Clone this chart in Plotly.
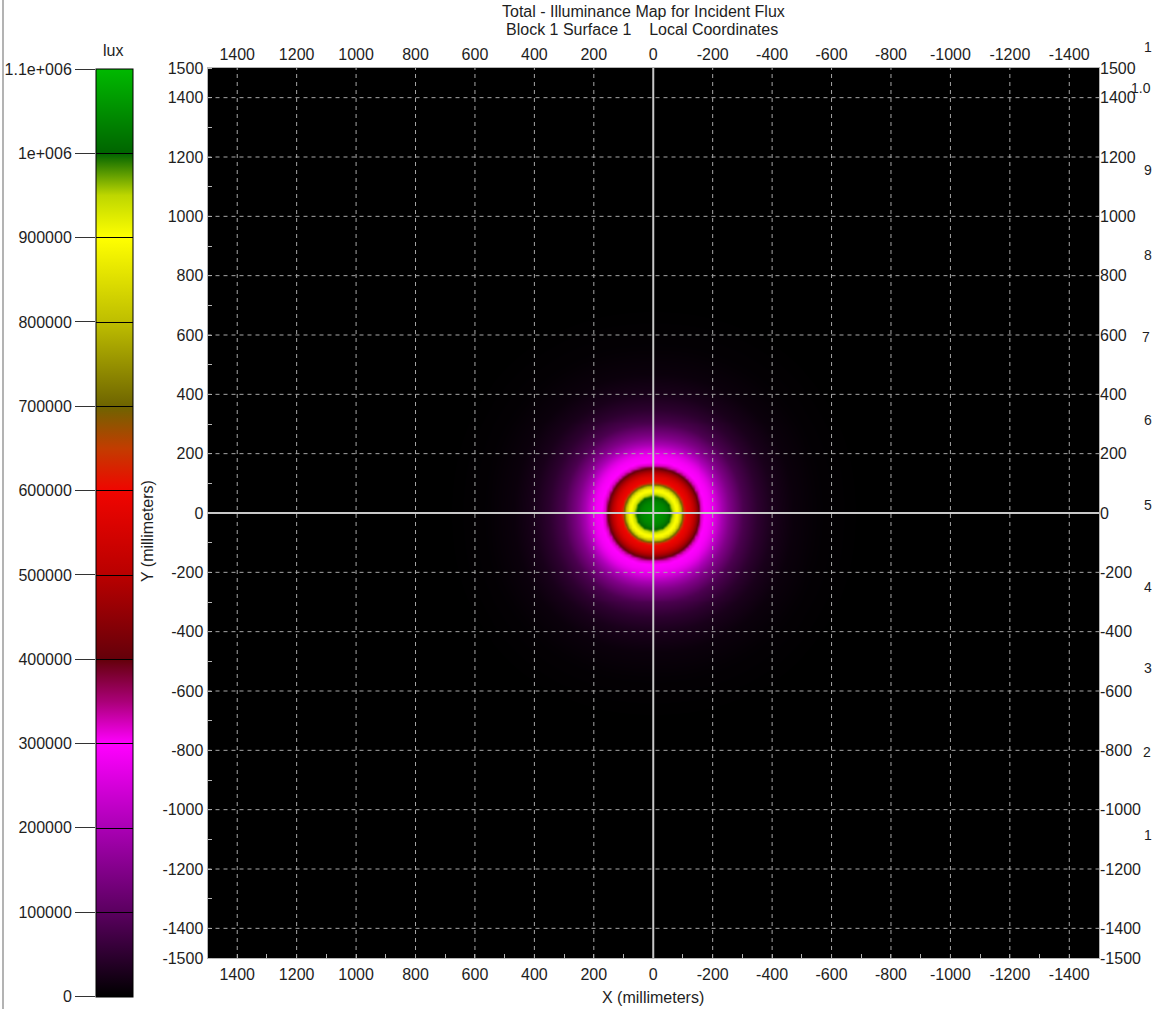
import numpy as np
import plotly.graph_objects as go

W, H = 1152, 1009

# ---------------- data ----------------
# radial illuminance profile of the spot (distance from centre in mm -> lux)
radius_mm = [0, 40, 58, 63, 72, 85, 92, 98, 104, 125, 140, 150, 158, 172,
             190, 205, 230, 255, 300, 350, 400, 470, 560, 700]
lux_profile = [1065000, 1040000, 1000000, 950000, 910000, 880000, 800000,
               680000, 610000, 560000, 480000, 420000, 330000, 300000,
               290000, 265000, 200000, 150000, 85000, 50000, 28000, 12000,
               4000, 0]

x_ticks = [1400, 1200, 1000, 800, 600, 400, 200, 0, -200, -400, -600, -800,
           -1000, -1200, -1400]
y_ticks = [1500, 1400, 1200, 1000, 800, 600, 400, 200, 0, -200, -400, -600,
           -800, -1000, -1200, -1400, -1500]
grid_vals = [1400, 1200, 1000, 800, 600, 400, 200, -200, -400, -600, -800,
             -1000, -1200, -1400]

cb_ticks = [0, 100000, 200000, 300000, 400000, 500000, 600000, 700000,
            800000, 900000, 1000000, 1100000]
cb_labels = ["0", "100000", "200000", "300000", "400000", "500000", "600000",
             "700000", "800000", "900000", "1e+006", "1.1e+006"]

# colour scale (lux -> colour)
lux_stops = [0, 100000, 200000, 300000, 350000, 400000, 500000, 600000,
             650000, 700000, 800000, 900000, 950000, 1000000, 1100000]
stop_colors = ["rgb(0,0,0)", "rgb(90,0,95)", "rgb(170,0,180)",
               "rgb(255,0,255)", "rgb(170,0,120)", "rgb(100,0,10)",
               "rgb(185,0,0)", "rgb(240,5,0)", "rgb(195,60,0)",
               "rgb(110,100,0)", "rgb(190,190,0)", "rgb(255,255,0)",
               "rgb(190,215,0)", "rgb(0,100,0)", "rgb(0,185,0)"]

# labels at the right window edge
edge_texts = ["1", "1.0", "9", "8", "7", "6", "5", "4", "3", "2", "1"]
edge_y_px = [47, 88, 170, 255, 337, 420, 505, 587, 668, 752, 835]
edge_x_px = [1142, 1129, 1142, 1142, 1140, 1142, 1142, 1142, 1142, 1141, 1142]

# ---------------- build figure ----------------
ZMAX = 1100000
colorscale = [[v / ZMAX, c] for v, c in zip(lux_stops, stop_colors)]

grid_mm = np.arange(-900, 901, 10)
gx, gy = np.meshgrid(grid_mm, grid_mm)
rr = (np.abs(gx) ** 2.15 + np.abs(gy) ** 2.15) ** (1 / 2.15)
z = np.interp(rr, radius_mm, lux_profile).round().astype(int)

FONT = "Liberation Sans, Arial, sans-serif"
TXT = "#1e1e1e"
FS = 16

plot_l, plot_r, plot_t, plot_b = 207.5, 1099, 68, 958
cb_l, cb_r, cb_t, cb_b = 96, 133, 69, 996.5

fig = go.Figure()
fig.add_trace(go.Heatmap(
    x=grid_mm, y=grid_mm, z=z, zmin=0, zmax=ZMAX, zsmooth="best",
    colorscale=colorscale, hoverinfo="skip",
    colorbar=dict(
        x=cb_l / W, xanchor="left", y=1 - cb_t / H, yanchor="top",
        len=cb_b - cb_t, lenmode="pixels", thickness=cb_r - cb_l,
        thicknessmode="pixels", xpad=0, ypad=0, outlinewidth=1,
        outlinecolor="#000", ticks="inside", ticklen=cb_r - cb_l,
        tickwidth=1, tickcolor="#000", tickmode="array", tickvals=cb_ticks,
        showticklabels=False),
))
fig.add_trace(go.Scatter(x=[None], y=[None], xaxis="x2", yaxis="y2",
                         showlegend=False, hoverinfo="skip"))
fig.add_trace(go.Scatter(x=[None], y=[None], xaxis="x3", yaxis="y3",
                         showlegend=False, hoverinfo="skip"))

tickfont = dict(family=FONT, size=FS, color=TXT)
xdom = [plot_l / W, plot_r / W]
ydom = [1 - plot_b / H, 1 - plot_t / H]
x_text = [str(v) for v in x_ticks]
y_text = [str(v) for v in y_ticks]

minor = dict(ticks="inside", dtick=100, tick0=0, ticklen=4,
             tickcolor="#b8b8b8", showgrid=False)

fig.update_layout(
    width=W, height=H, margin=dict(l=0, r=0, t=0, b=0, autoexpand=False),
    paper_bgcolor="white", plot_bgcolor="black", showlegend=False,
    font=dict(family=FONT, size=FS, color=TXT),
    xaxis=dict(domain=xdom, range=[1500, -1500], anchor="y",
               tickmode="array", tickvals=x_ticks, ticktext=x_text, ticks="",
               showgrid=False, zeroline=False, showline=True,
               linecolor="#b4b4b4", linewidth=1, mirror=True,
               tickfont=tickfont, minor=minor, ticklabelstandoff=2),
    xaxis2=dict(overlaying="x", side="top", anchor="y", range=[1500, -1500],
                tickmode="array", tickvals=x_ticks, ticktext=x_text, ticks="",
                showgrid=False, zeroline=False, showline=False,
                tickfont=tickfont, ticklabelstandoff=4),
    yaxis=dict(domain=ydom, range=[-1500, 1500], anchor="x",
               tickmode="array", tickvals=y_ticks, ticktext=y_text, ticks="",
               showgrid=False, zeroline=False, showline=True,
               linecolor="#b4b4b4", linewidth=1, mirror=True,
               tickfont=tickfont, minor=minor, ticklabelstandoff=0),
    yaxis2=dict(overlaying="y", side="right", anchor="x", range=[-1500, 1500],
                tickmode="array", tickvals=y_ticks, ticktext=y_text, ticks="",
                showgrid=False, zeroline=False, showline=False,
                tickfont=tickfont, ticklabelstandoff=0),
    xaxis3=dict(domain=[cb_l / W, cb_r / W], anchor="y3", range=[0, 1],
                visible=False),
    yaxis3=dict(domain=[1 - cb_b / H, 1 - cb_t / H], anchor="x3",
                range=[0, ZMAX], tickmode="array", tickvals=cb_ticks,
                ticktext=cb_labels, ticks="outside", ticklen=20,
                tickcolor="#333", tickwidth=1, showgrid=False,
                zeroline=False, showline=False, tickfont=tickfont,
                ticklabelstandoff=0),
)

shapes = []
for v in grid_vals:
    shapes.append(dict(type="line", xref="x", yref="y domain", x0=v, x1=v,
                       y0=0, y1=1, layer="above",
                       line=dict(color="#a8a8a8", width=1, dash="4px,4px")))
    shapes.append(dict(type="line", xref="x domain", yref="y", x0=0, x1=1,
                       y0=v, y1=v, layer="above",
                       line=dict(color="#a8a8a8", width=1, dash="4px,4px")))
shapes.append(dict(type="line", xref="x", yref="y domain", x0=0, x1=0,
                   y0=0, y1=1, layer="above",
                   line=dict(color="#c8c8c8", width=2)))
shapes.append(dict(type="line", xref="x domain", yref="y", x0=0, x1=1,
                   y0=0, y1=0, layer="above",
                   line=dict(color="#c8c8c8", width=2)))
shapes.append(dict(type="line", xref="paper", yref="paper", x0=3 / W,
                   x1=3 / W, y0=0, y1=1, line=dict(color="#9a9a9a", width=1.5)))
fig.update_layout(shapes=shapes)

ann = [
    dict(text="Total - Illuminance Map for Incident Flux", x=643 / W,
         y=1 - 11 / H),
    dict(text="Block 1 Surface 1\u00a0\u00a0\u00a0\u00a0Local Coordinates",
         x=642 / W, y=1 - 30 / H),
    dict(text="lux", x=113 / W, y=1 - 51 / H),
    dict(text="X (millimeters)", x=653 / W, y=1 - 997 / H),
    dict(text="Y (millimeters)", x=147 / W, y=1 - 531 / H, textangle=-90),
]
annotations = []
for a in ann:
    d = dict(xref="paper", yref="paper", showarrow=False, xanchor="center",
             yanchor="middle", font=dict(family=FONT, size=FS, color=TXT))
    d.update(a)
    annotations.append(d)
for t, xp, yp in zip(edge_texts, edge_x_px, edge_y_px):
    annotations.append(dict(text=t, x=xp / W, y=1 - yp / H, xref="paper",
                            yref="paper", showarrow=False, xanchor="left",
                            yanchor="middle",
                            font=dict(family=FONT, size=14, color=TXT)))
fig.update_layout(annotations=annotations)

fig.write_html(
    "out.html",
    config={"displayModeBar": False},
    post_script="document.body.style.margin='0';"
                "document.body.style.overflow='hidden';",
)
